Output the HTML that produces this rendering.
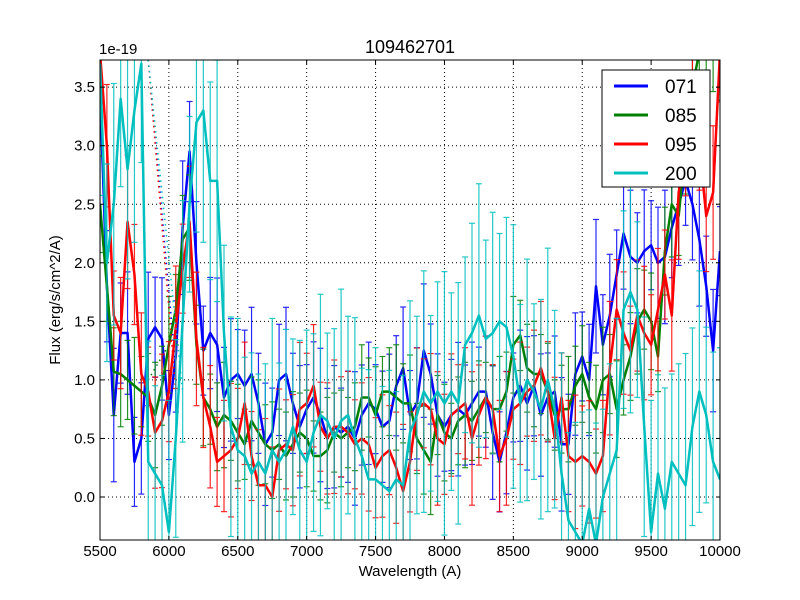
<!DOCTYPE html>
<html><head><meta charset="utf-8"><style>
html,body{margin:0;padding:0;background:#fff;width:800px;height:600px;overflow:hidden;}
svg{display:block;}
svg text{font-family:"Liberation Sans","DejaVu Sans",sans-serif;}
</style></head><body>
<svg id="chart" width="800" height="600" xmlns="http://www.w3.org/2000/svg">
<rect width="800" height="600" fill="#fff"/>
<defs><clipPath id="clip"><rect x="100" y="60" width="620" height="480"/></clipPath></defs>
<g id="grid"></g>
<g id="series" clip-path="url(#clip)"></g>
<rect x="100" y="60" width="620" height="480" fill="none" stroke="#000" stroke-width="1"/>
<g id="ticks"></g>
<text x="410" y="53" font-size="18" text-anchor="middle">109462701</text>
<text x="99" y="54" font-size="15">1e-19</text>
<text x="410" y="576" font-size="15" text-anchor="middle">Wavelength (A)</text>
<text x="60" y="300" font-size="15" text-anchor="middle" transform="rotate(-90 60 300)">Flux (erg/s/cm^2/A)</text>
<g id="legend">
<rect x="602" y="70" width="108" height="117" fill="#fff" stroke="#000" stroke-width="1"/>
</g>
</svg>
<script>
const wl = [5500,5550,5600,5650,5700,5750,5800,5850,5900,5950,6000,6050,6100,6150,6200,6250,6300,6350,6400,6450,6500,6550,6600,6650,6700,6750,6800,6850,6900,6950,7000,7050,7100,7150,7200,7250,7300,7350,7400,7450,7500,7550,7600,7650,7700,7750,7800,7850,7900,7950,8000,8050,8100,8150,8200,8250,8300,8350,8400,8450,8500,8550,8600,8650,8700,8750,8800,8850,8900,8950,9000,9050,9100,9150,9200,9250,9300,9350,9400,9450,9500,9550,9600,9650,9700,9750,9800,9850,9900,9950,10000];
const s071 = [3.5,1.8,0.7,1.4,1.4,0.3,0.5,1.35,1.45,1.35,0.7,1.2,2.3,2.95,2.0,1.25,1.4,1.3,0.85,1.0,1.05,0.95,1.05,0.8,0.45,0.55,1.0,1.05,0.8,0.6,0.75,0.85,0.7,0.5,0.6,0.55,0.6,0.5,0.7,0.8,0.75,0.6,0.65,0.95,1.1,0.7,0.8,1.25,1.05,0.7,0.6,0.7,0.75,0.7,0.8,0.9,0.9,0.55,0.3,0.55,0.85,0.95,0.8,0.95,0.7,0.85,0.9,0.45,0.45,1.05,1.2,1.0,1.8,1.3,1.55,1.9,2.25,2.05,2.0,2.1,2.15,2.0,2.05,2.3,2.5,2.7,2.5,2.2,1.8,1.25,2.1];
const s085 = [2.5,1.8,1.07,1.05,1.0,0.95,0.9,0.85,0.7,0.95,1.3,1.6,2.2,2.3,1.3,0.85,0.75,0.6,0.7,0.65,0.55,0.45,0.65,0.55,0.45,0.4,0.45,0.35,0.45,0.55,0.5,0.35,0.35,0.4,0.55,0.5,0.55,0.6,0.85,0.85,0.7,0.9,0.9,0.85,0.8,0.8,0.5,0.4,0.3,0.7,0.55,0.5,0.65,0.7,0.65,0.75,0.85,0.75,0.75,0.9,1.3,1.38,1.1,1.05,1.05,0.9,0.7,0.75,0.75,0.95,1.05,0.85,0.75,1.0,1.05,0.75,1.0,1.2,1.5,1.6,1.5,1.2,2.1,2.5,2.4,3.0,3.5,3.8,3.8,3.8,3.8];
const s095 = [3.8,3.0,1.55,1.4,2.35,1.9,1.05,0.9,0.55,0.65,0.9,1.45,1.95,2.35,1.35,0.85,0.6,0.3,0.35,0.4,0.5,0.8,0.35,0.1,0.1,0.0,0.4,0.45,0.4,0.75,0.8,0.95,0.6,0.5,0.6,0.6,0.55,0.45,0.5,0.45,0.25,0.35,0.4,0.25,0.05,0.3,0.75,0.8,0.75,0.5,0.45,0.7,0.75,0.8,0.5,0.7,0.85,0.75,0.35,0.5,0.75,0.8,0.9,0.95,1.1,0.9,0.5,0.85,0.35,0.3,0.35,0.3,0.2,0.35,1.1,1.6,1.4,1.25,1.55,1.4,1.3,1.6,1.9,1.55,2.6,3.0,3.5,3.0,2.4,2.6,3.8];
const s200 = [3.7,2.0,2.5,3.4,2.8,3.3,3.7,0.3,0.2,0.1,-0.3,0.5,1.5,2.5,3.2,3.3,2.7,2.7,1.4,0.6,0.4,0.35,0.2,0.3,0.2,0.4,0.3,0.4,0.6,0.4,0.3,0.55,0.7,0.65,0.5,0.65,0.7,0.5,0.35,0.15,0.15,0.1,0.05,0.15,0.1,0.55,0.7,0.9,0.8,0.9,0.8,0.9,0.8,1.3,1.4,1.55,1.35,1.4,1.5,1.45,1.2,0.8,1.0,0.9,0.75,1.0,0.75,0.2,-0.2,-0.3,-0.4,-0.1,-0.4,0.0,0.2,0.4,1.6,1.75,1.6,0.6,-0.3,0.2,-0.1,0.3,0.2,0.1,0.6,0.9,0.7,0.3,0.15];
const errs = [0.38,0.3,0.38,0.75];
const seriesNames = ["071","085","095","200"];
const xTicks = [5500,6000,6500,7000,7500,8000,8500,9000,9500,10000];
const yTicks = [0,0.5,1.0,1.5,2.0,2.5,3.0,3.5];
const yTickLabels = ["0.0","0.5","1.0","1.5","2.0","2.5","3.0","3.5"];
const gapFrom = [5850,5850,5850,5850];
const gapFromVal = [4.2,1.0,4.2,4.0];
const gapTo = [6050,6000,6050,6100];
const gapToVal = [1.1,1.3,0.9,0.9];
const colors = ["#0000ff","#008000","#ff0000","#00bfbf"];
const NS="http://www.w3.org/2000/svg";
function X(w){return 100+(w-5500)*620/4500;}
function Y(v){return 497-v*117.1;}
function YC(v){return Math.max(60,Math.min(540,Y(v)));}
function mk(tag,attrs,parent){const e=document.createElementNS(NS,tag);for(const k in attrs)e.setAttribute(k,attrs[k]);parent.appendChild(e);return e;}
const grid=document.getElementById('grid'),ticks=document.getElementById('ticks'),sg=document.getElementById('series'),leg=document.getElementById('legend');
xTicks.forEach(t=>{const x=X(t);
 const g=mk('line',{x1:x,x2:x,y1:60,y2:540,stroke:'#000','stroke-dasharray':'1,3','stroke-width':1},grid);
 
 
 mk('line',{x1:x,x2:x,y1:540,y2:536,stroke:'#000'},ticks);
 mk('line',{x1:x,x2:x,y1:60,y2:64,stroke:'#000'},ticks);
 const tx=mk('text',{x:x,y:556,'font-size':15,'text-anchor':'middle'},ticks);tx.textContent=t;
 
 });
yTicks.forEach((t,i)=>{const y=Y(t);
 const g=mk('line',{x1:100,x2:720,y1:y,y2:y,stroke:'#000','stroke-dasharray':'1,3','stroke-width':1},grid);
 
 
 mk('line',{x1:100,x2:104,y1:y,y2:y,stroke:'#000'},ticks);
 mk('line',{x1:716,x2:720,y1:y,y2:y,stroke:'#000'},ticks);
 const tx=mk('text',{x:95,y:y+5,'font-size':15,'text-anchor':'end'},ticks);tx.textContent=yTickLabels[i];
 
 });
[s071,s085,s095,s200].forEach((s,si)=>{const c=colors[si];
 const eg=mk('g',{stroke:c,'stroke-width':1.2,opacity:0.85},sg);
 
 
 s.forEach((v,i)=>{const x=X(wl[i]);const e=errs[si]*(1+0.5*((i*7+si*3)%5)/4);
  const yt=Y(v+e),yb=Y(v-e);
  mk('line',{x1:x,x2:x,y1:YC(v+e),y2:YC(v-e)},eg);
  if(yt>=60&&yt<=540)mk('line',{x1:x-3,x2:x+3,y1:yt,y2:yt},eg);
  if(yb>=60&&yb<=540)mk('line',{x1:x-3,x2:x+3,y1:yb,y2:yb},eg);});
 const d=mk('line',{x1:X(gapFrom[si]),y1:YC(gapFromVal[si]),x2:X(gapTo[si]),y2:YC(gapToVal[si]),stroke:c,'stroke-width':1.5,'stroke-dasharray':'1.5,4'},sg);
 
 
 const p=mk('polyline',{points:s.map((v,i)=>X(wl[i])+','+Y(v)).join(' '),fill:'none',stroke:c,'stroke-width':2.5,'stroke-linejoin':'round'},sg);
 
 
 const ly=86+si*29;
 mk('line',{x1:614,x2:648,y1:ly,y2:ly,stroke:c,'stroke-width':3},leg);
 const lt=mk('text',{x:665,y:ly+7,'font-size':19},leg);lt.textContent=seriesNames[si];
 
 });
</script>
</body></html>
